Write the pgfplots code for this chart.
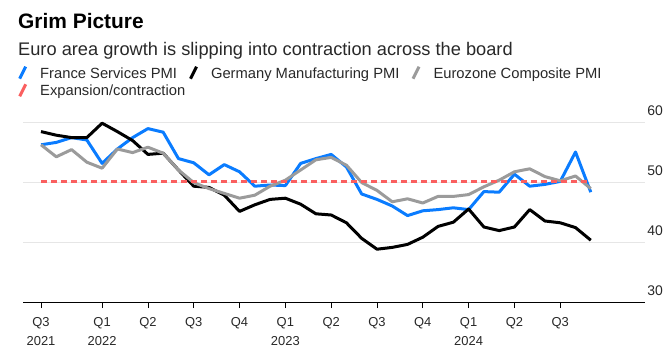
\documentclass[border=0pt]{standalone}
\usepackage{fontspec}
\setmainfont{Liberation Sans}
\usepackage{pgfplots}
\pgfplotsset{compat=1.18}
\usepackage{pgfplotstable}
\definecolor{fblue}{RGB}{10,124,255}
\definecolor{lgrey}{RGB}{155,155,155}
\definecolor{rdash}{RGB}{250,95,95}
\definecolor{gridc}{RGB}{230,230,230}
\definecolor{txt}{RGB}{40,40,40}

\pgfplotstableread{
i fr de ez
0 56.2 58.4 56.2
1 56.6 57.8 54.2
2 57.4 57.4 55.4
3 57.0 57.4 53.3
4 53.1 59.8 52.3
5 55.5 58.4 55.5
6 57.4 56.9 54.9
7 58.9 54.6 55.8
8 58.3 54.8 54.8
9 53.9 52.0 52.0
10 53.2 49.3 49.9
11 51.2 49.1 48.9
12 52.9 47.8 48.1
13 51.7 45.1 47.3
14 49.3 46.2 47.8
15 49.5 47.1 49.3
16 49.4 47.3 50.3
17 53.1 46.3 52.0
18 53.9 44.7 53.7
19 54.6 44.5 54.1
20 52.5 43.2 52.8
21 48.0 40.6 49.9
22 47.1 38.8 48.6
23 46.0 39.1 46.7
24 44.4 39.6 47.2
25 45.2 40.8 46.5
26 45.4 42.6 47.6
27 45.7 43.3 47.6
28 45.4 45.5 47.9
29 48.4 42.5 49.2
30 48.3 41.9 50.3
31 51.3 42.5 51.7
32 49.3 45.4 52.2
33 49.6 43.5 50.9
34 50.1 43.2 50.2
35 55.0 42.4 51.0
36 48.3 40.3 48.9
}\pmidata

\begin{document}
\begin{tikzpicture}
\useasboundingbox (0bp,0bp) rectangle (670bp,360bp);
\node[anchor=base west, inner sep=0, font=\bfseries\fontsize{21}{25}\selectfont] at (18bp,331bp) {Grim Picture};
\node[anchor=base west, inner sep=0, font=\fontsize{18.3}{22}\selectfont, text=txt] at (18bp,304bp) {Euro area growth is slipping into contraction across the board};
\begin{axis}[
  at={(23bp,58bp)}, anchor=south west,
  scale only axis, width=622bp, height=180bp,
  xmin=-1.18, xmax=39.55, ymin=30, ymax=60,
  axis x line*=bottom, axis y line*=right,
  y axis line style={draw=none},
  x axis line style={black, line width=1bp, -},
  ytick={30,40,50,60},
  /pgf/number format/assume math mode=true,
  ymajorgrids, grid style={gridc, line width=0.8bp},
  ytick style={draw=none},
  yticklabel pos=right,
  yticklabel style={anchor=south east, inner sep=0pt, xshift=12bp, yshift=6bp, font=\fontsize{14}{16}\selectfont, text=txt},
  xtick={0,4,7,10,13,16,19,22,25,28,31,34},
  xticklabels={{Q3\\2021},{Q1\\2022},Q2,Q3,Q4,{Q1\\2023},Q2,Q3,Q4,{Q1\\2024},Q2,Q3},
  xticklabel style={align=center, font=\fontsize{13}{19}\selectfont, text=txt, inner sep=0pt, yshift=-9bp},
  tick align=outside, major tick length=6bp,
  xtick style={black, line width=0.8bp},
  legend columns=3,
  legend cell align=left,
  legend style={at={(rel axis cs:0,1)}, anchor=north west, xshift=-5bp, yshift=57bp,
    draw=none, fill=none, inner sep=0pt,
    font=\fontsize{14.8}{17}\selectfont, text=txt,
    row sep=2bp,
    nodes={inner sep=1bp},
    /tikz/every odd column/.append style={column sep=12bp},
    /tikz/every even column/.append style={column sep=11bp}},
  legend image code/.code={\draw[#1, solid, line width=3bp] (0bp,-5bp) -- (6bp,7bp);},
]
\addplot[fblue, line width=3bp, line join=round] table[x=i, y=fr] {\pmidata};
\addlegendentry{France Services PMI}
\addplot[black, line width=3bp, line join=round] table[x=i, y=de] {\pmidata};
\addlegendentry{Germany Manufacturing PMI}
\addplot[lgrey, line width=3bp, line join=round] table[x=i, y=ez] {\pmidata};
\addlegendentry{Eurozone Composite PMI}
\addplot[rdash, line width=3bp, dash pattern=on 6bp off 4bp] coordinates {(0,50) (36,50)};
\addlegendentry{\makebox[0pt][l]{Expansion/contraction}}
\end{axis}
\end{tikzpicture}
\end{document}
